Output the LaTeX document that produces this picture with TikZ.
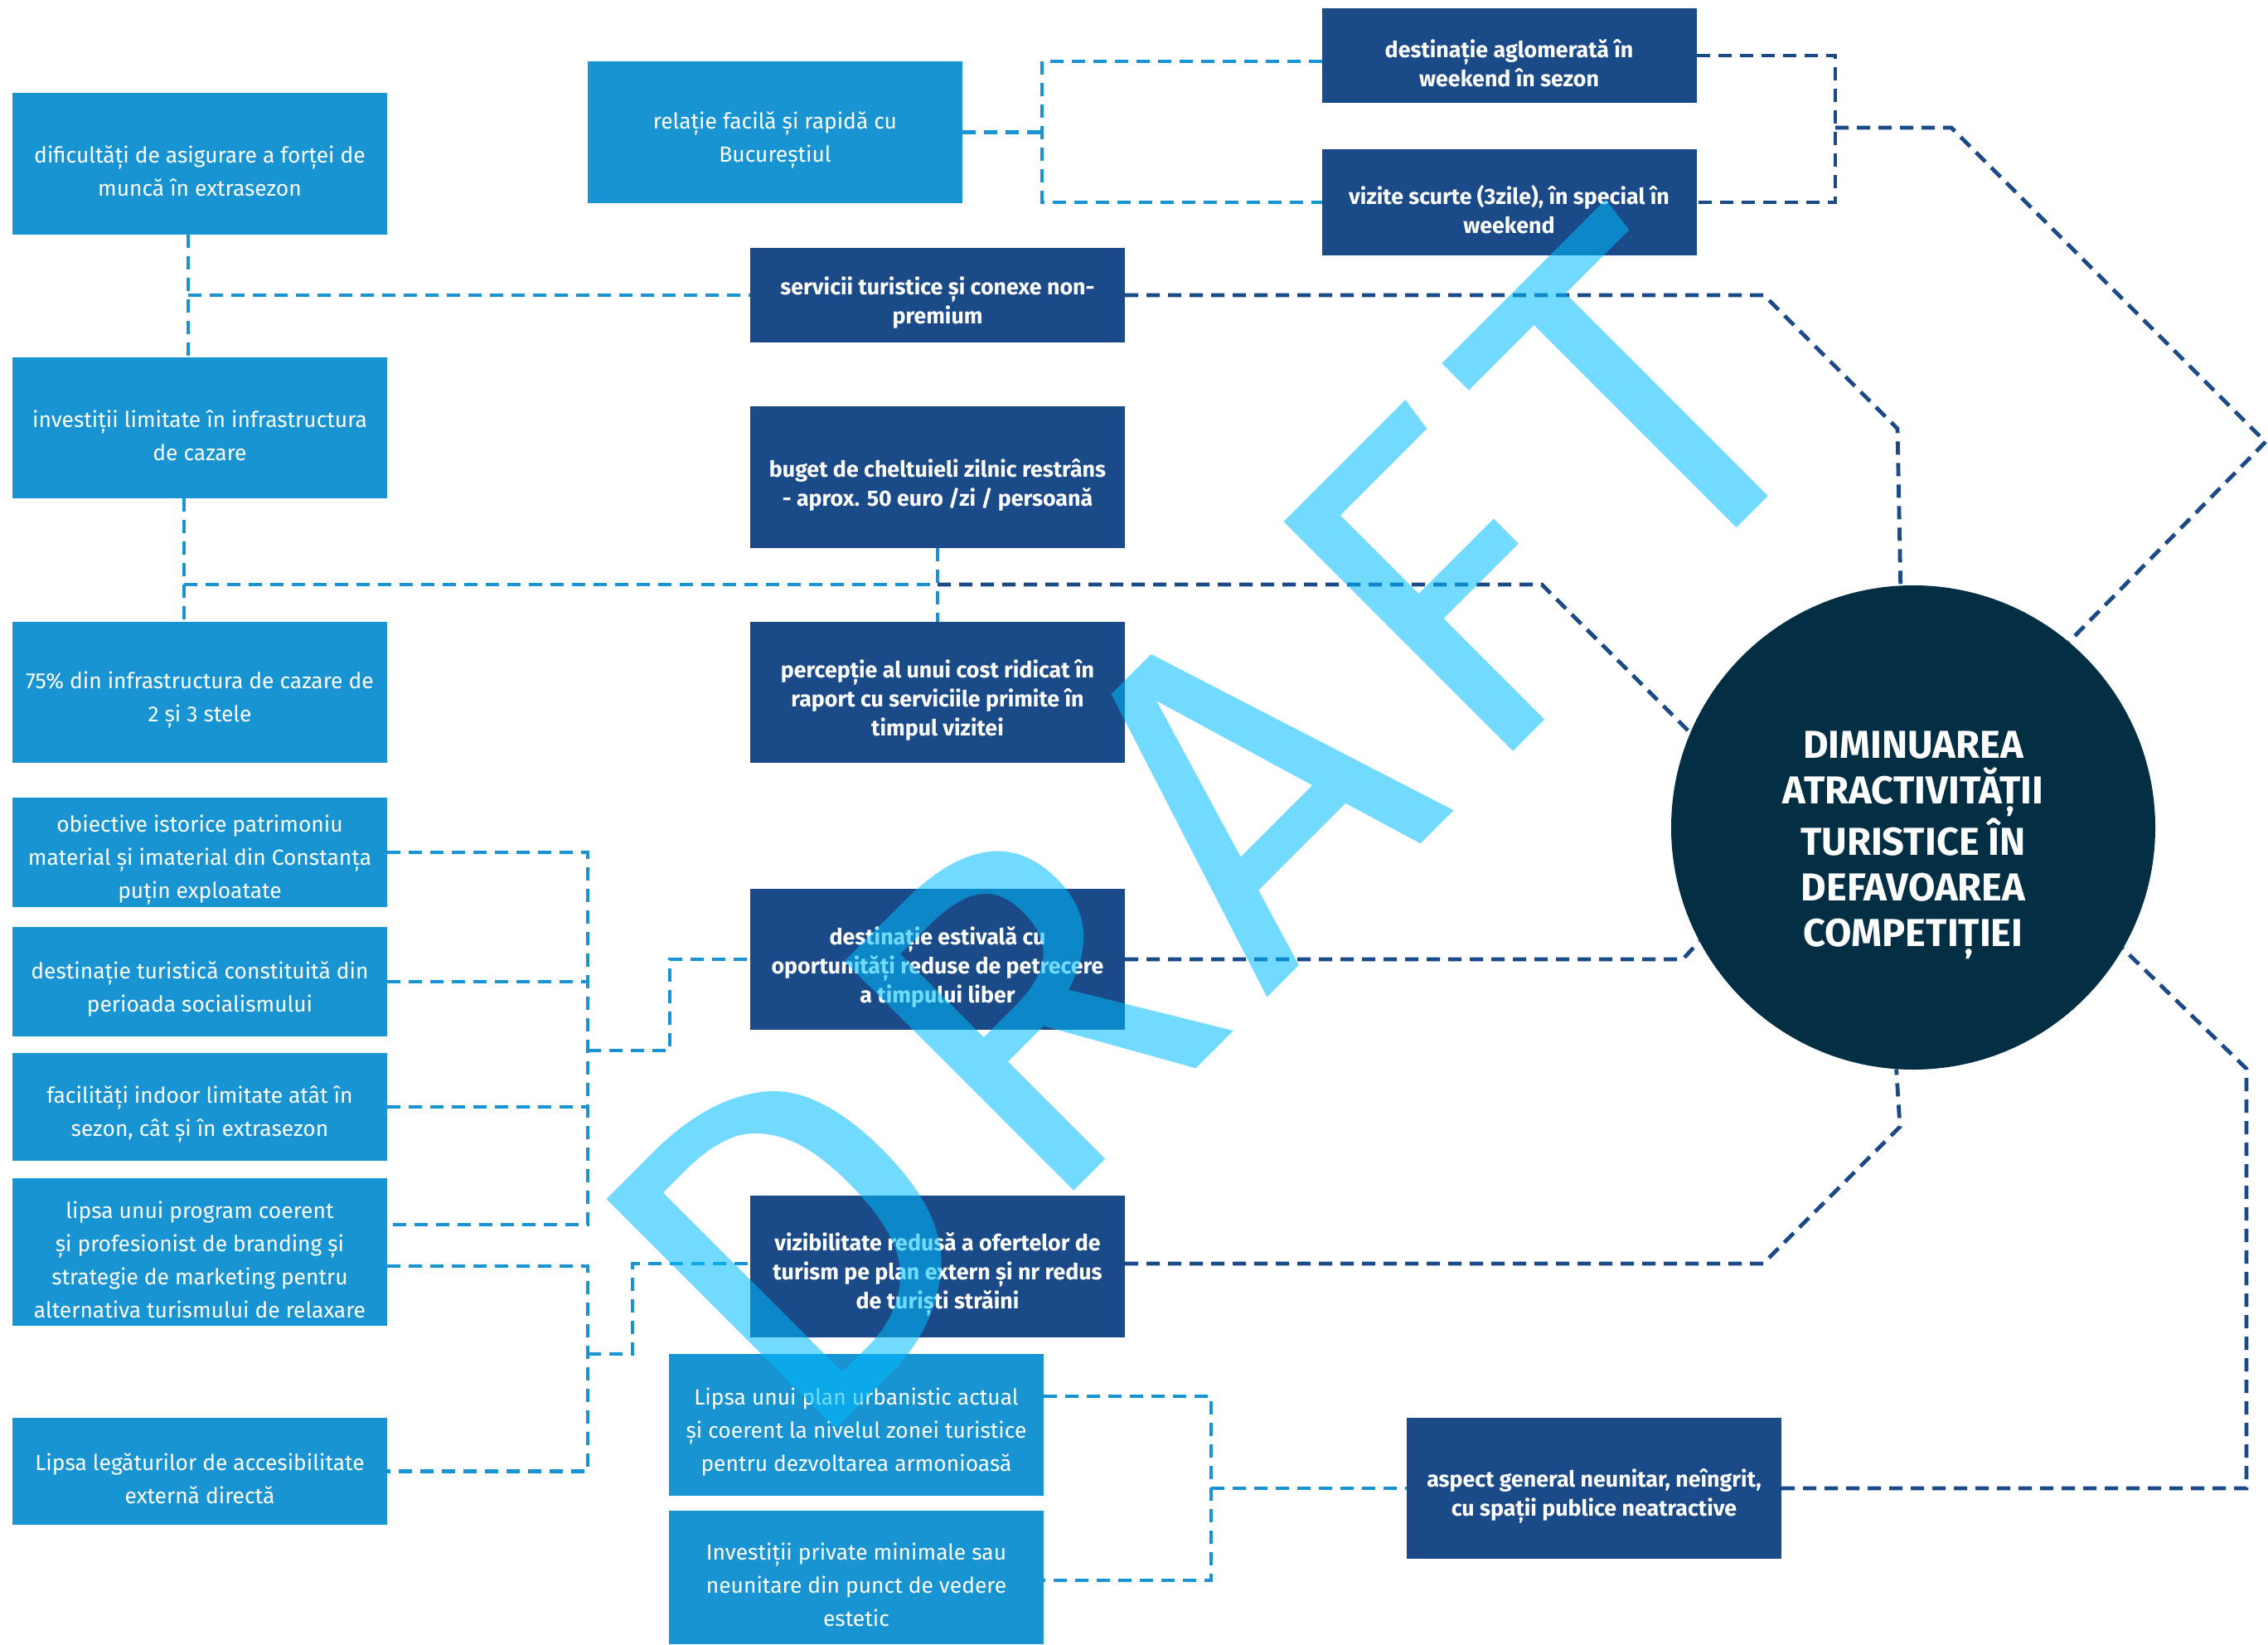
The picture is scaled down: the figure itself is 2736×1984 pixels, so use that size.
\documentclass[tikz,border=0pt]{standalone}
\usepackage{fontspec}
\setmainfont{Fira Sans}
\definecolor{lbox}{RGB}{25,148,210}
\definecolor{dbox}{RGB}{27,74,137}
\definecolor{circ}{RGB}{2,47,68}
\definecolor{wm}{RGB}{0,188,255}
% box with its text set slightly below the centre
\newcommand{\mybox}[6]{%
  \node[#2box, minimum height=#5] (#1) at (#3,#4) {};
  \node[#2txt] (#1t) at ([yshift=-4.5pt]#1.center) {#6};}
\begin{document}
\begin{tikzpicture}[x=0.5pt,y=-0.5pt,
  boxbase/.style={inner sep=0pt, outer sep=0pt, minimum width=226pt},
  lbox/.style={boxbase, fill=lbox},
  dbox/.style={boxbase, fill=dbox},
  ltxt/.style={text=white, inner sep=0pt, align=center, font=\fontsize{13.2}{20}\selectfont},
  dtxt/.style={text=white, inner sep=0pt, align=center, font=\fontsize{13.4}{17.5}\selectfont\bfseries},
  lb/.style={draw=lbox, line width=2.4pt, dash pattern=on 8pt off 5pt},
  db/.style={draw=dbox, line width=2.4pt, dash pattern=on 8pt off 5pt}]
\fill[white] (0,0) rectangle (2736,1984);
\useasboundingbox (0,0) rectangle (2736,1984);

% boxes
\mybox{B1}{l}{241}{197.5}{85.5pt}{dificultăți de asigurare a forței de\\muncă în extrasezon}
\mybox{B2}{l}{935}{159.5}{85.5pt}{relație facilă și rapidă cu\\Bucureștiul}
\mybox{B3}{d}{1820.5}{67}{57pt}{destinație aglomerată în\\weekend în sezon}
\mybox{B4}{d}{1820.5}{244}{64pt}{vizite scurte (3zile), în special în\\weekend}
\mybox{B5}{d}{1131}{356}{57pt}{servicii turistice și conexe non-\\premium}
\mybox{B6}{l}{241}{516}{85pt}{investiții limitate în infrastructura\\de cazare}
\mybox{B7}{d}{1131}{575.5}{85.5pt}{buget de cheltuieli zilnic restrâns\\- aprox. 50 euro /zi / persoană}
\mybox{B8}{l}{241}{835}{85pt}{75\% din infrastructura de cazare de\\2 și 3 stele}
\mybox{B9}{d}{1131}{835}{85pt}{percepție al unui cost ridicat în\\raport cu serviciile primite în\\timpul vizitei}
\mybox{B10}{l}{241}{1028}{66pt}{obiective istorice patrimoniu\\material și imaterial din Constanța\\puțin exploatate}
\mybox{B11}{l}{241}{1184}{66pt}{destinație turistică constituită din\\perioada socialismului}
\mybox{B12}{l}{241}{1335}{65pt}{facilități indoor limitate atât în\\sezon, cât și în extrasezon}
\mybox{B13}{d}{1131}{1157}{85pt}{destinație estivală cu\\oportunități reduse de petrecere\\a timpului liber}
\mybox{B14}{l}{241}{1510}{89pt}{lipsa unui program coerent\\și profesionist de branding și\\strategie de marketing pentru\\alternativa turismului de relaxare}
\mybox{B15}{l}{241}{1774.5}{64.5pt}{Lipsa legăturilor de accesibilitate\\externă directă}
\mybox{B16}{d}{1131}{1527.5}{85.5pt}{vizibilitate redusă a ofertelor de\\turism pe plan extern și nr redus\\de turiști străini}
\mybox{B17}{l}{1033}{1718.5}{85.5pt}{Lipsa unui plan urbanistic actual\\și coerent la nivelul zonei turistice\\pentru dezvoltarea armonioasă}
\mybox{B18}{l}{1033}{1902.5}{80.5pt}{Investiții private minimale sau\\neunitare din punct de vedere\\estetic}
\mybox{B19}{d}{1923}{1795}{85pt}{aspect general neunitar, neîngrit,\\cu spații publice neatractive}
\node[circle, fill=circ, minimum size=292pt, inner sep=0pt, outer sep=0pt] (C) at (2308,998) {};
\node[text=white, align=center, inner sep=0pt, font=\fontsize{23.5}{27.5}\selectfont\bfseries] (CT) at (2308,1019) {DIMINUAREA\\ATRACTIVITĂȚII\\TURISTICE ÎN\\DEFAVOAREA\\COMPETIȚIEI};

% junctions
\coordinate (j2) at (1257,159.5);
\coordinate (j3) at (2214,154);

% light connectors
\draw[lb] (B1.south -| 227,0) -- (B6.north -| 227,0);
\draw[lb] (227,356) -- (B5.west);
\draw[lb] (B2.east) -- (j2);
\draw[lb] (B3.west |- 0,74) -| (j2) |- (B4.west);
\draw[lb] (B6.south -| 222,0) -- (B8.north -| 222,0);
\draw[lb] (222,705) -- (B7.south |- 0,705);
\draw[lb] (B7.south) -- (B9.north);
\draw[lb] (B10.east) -| (709,1477) -- (B14.east |- 0,1477);
\draw[lb] (B11.east) -- (B11.east -| 709,0);
\draw[lb] (B12.east) -- (B12.east -| 709,0);
\draw[lb] (709,1267) -| (808,1157) -- (B13.west);
\draw[lb] (B14.east |- 0,1527) -| (709,1774.5) -- (B15.east);
\draw[lb] (709,1633) -| (763,1524) -- (B16.west |- 0,1524);
\draw[lb] (B17.east |- 0,1684) -| (1461,1906) -- (B18.east |- 0,1906);
\draw[lb] (1461,1795) -- (B19.west);

% dark connectors
\draw[db] (B3.east) -| (j3) |- (B4.east);
\draw[db] (j3) -- (2354,154) -- (2733,533) -- (C.50.7);
\draw[db] (B5.east) -- (2128,356) -- (2289,517) -- (C.93.7);
\draw[db] (B7.south |- 0,705) -- (1860,705) -- (C.157);
\draw[db] (B13.east) -- (2030,1157) -- (C.208.2);
\draw[db] (B16.east |- 0,1524) -- (2127,1524) -- (2292,1359) -- (C.266.9);
\draw[db] (B19.east) -- (2710,1795) -- (2710,1289) -- (C.330.6);

% watermark
\node[rotate=45, text=wm, text opacity=0.55, inner sep=0pt, font=\fontsize{284}{284}\selectfont] (wmk) at (1455,1000) {D\hspace{20pt}R\hspace{20pt}A\hspace{20pt}F\hspace{20pt}T};
\end{tikzpicture}
\end{document}
